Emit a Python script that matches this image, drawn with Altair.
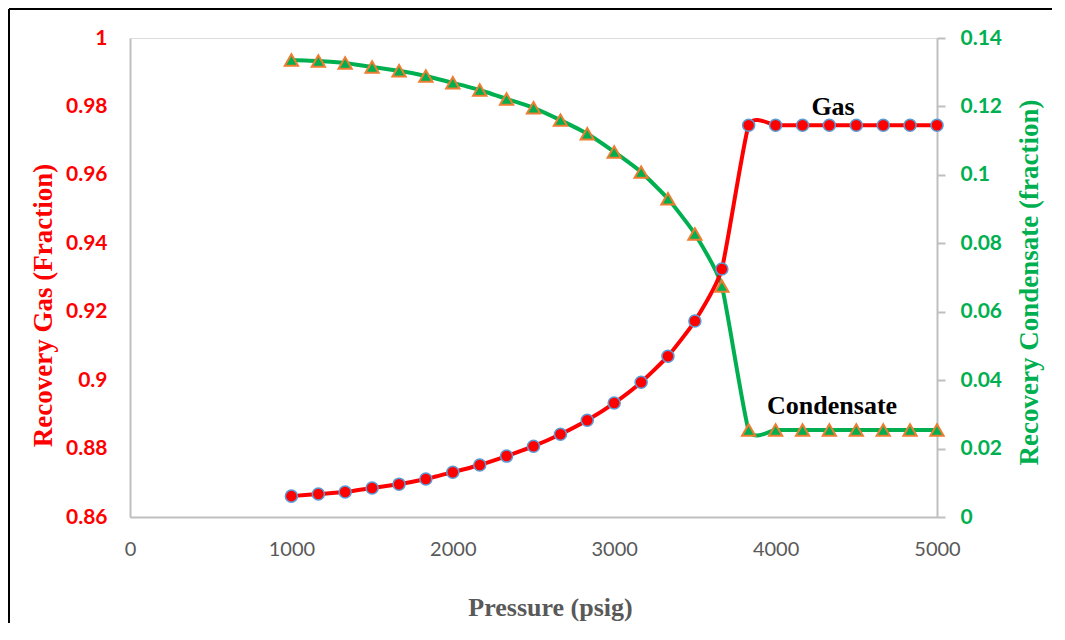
import altair as alt
import pandas as pd

pressure = [1000, 1167, 1333, 1500, 1667, 1833, 2000, 2167, 2333, 2500, 2667, 2833,
            3000, 3167, 3333, 3500, 3667, 3833, 4000, 4167, 4333, 4500, 4667, 4833, 5000]
gas = [0.8661, 0.8667, 0.8673, 0.8685, 0.8696, 0.8711, 0.8731, 0.8752, 0.8778, 0.8807,
       0.8842, 0.8883, 0.8933, 0.8994, 0.9070, 0.9173, 0.9325, 0.9745, 0.9745, 0.9745,
       0.9745, 0.9745, 0.9745, 0.9745, 0.9745]
condensate = [0.1336, 0.1333, 0.1327, 0.1315, 0.1304, 0.1289, 0.1269, 0.1248, 0.1222, 0.1196,
              0.1160, 0.1120, 0.1067, 0.1008, 0.0930, 0.0827, 0.0675, 0.0254, 0.0254, 0.0254,
              0.0254, 0.0254, 0.0254, 0.0254, 0.0254]

ann_text = ["Gas", "Condensate"]
ann_x = [4356, 4350]
ann_y = [0.9775, 0.8901]

x_ticks = [0, 1000, 2000, 3000, 4000, 5000]
left_ticks = [0.86, 0.88, 0.90, 0.92, 0.94, 0.96, 0.98, 1.0]
right_ticks = [0, 0.02, 0.04, 0.06, 0.08, 0.10, 0.12, 0.14]

df = pd.DataFrame({"p": pressure, "gas": gas, "cond": condensate})
ann = pd.DataFrame({"t": ann_text, "x": ann_x, "y": ann_y})

GRAY = "#BFBFBF"
RED = "#FF0000"
GREEN = "#00B050"
SERIF = "Liberation Serif"
TENSION = 0.5

xscale = alt.Scale(domain=[0, 5000], nice=False)
lscale = alt.Scale(domain=[0.86, 1.0], nice=False, zero=False)
rscale = alt.Scale(domain=[0, 0.14], nice=False)

x_axis = alt.Axis(values=x_ticks, format="d", title="Pressure (psig)", ticks=False, grid=False,
                  labelFont="Lato", labelFontSize=20, labelColor="#595959",
                  labelPadding=22, labelFlush=False, domainColor=GRAY, domainWidth=2,
                  titleFont=SERIF, titleFontSize=26, titleFontWeight="bold",
                  titleColor="#595959", titleX=420, titleY=98,
                  titleBaseline="alphabetic", titleAlign="center")

left_axis = alt.Axis(orient="left", values=left_ticks, format="~g", ticks=False, grid=False,
                     labelFont="Lato", labelFontSize=21, labelFontWeight="bold",
                     labelColor=RED, labelPadding=23, labelFlush=False,
                     domainColor=GRAY, domainWidth=2,
                     title="Recovery Gas (Fraction)", titleFont=SERIF, titleFontSize=27,
                     titleFontWeight="bold", titleColor=RED, titleAngle=270,
                     titleBaseline="bottom", titleAlign="center", titleX=-73, titleY=267)

right_axis = alt.Axis(orient="right", values=right_ticks, format="~g", ticks=True,
                      tickSize=8, tickColor=GRAY, tickWidth=2, grid=False,
                      labelFont="Lato", labelFontSize=21, labelFontWeight="bold",
                      labelColor=GREEN, labelPadding=15, labelFlush=False,
                      domainColor=GRAY, domainWidth=2,
                      title="Recovery Condensate (fraction)", titleFont=SERIF,
                      titleFontSize=27, titleFontWeight="bold", titleColor=GREEN,
                      titleAngle=270, titleBaseline="bottom", titleAlign="center",
                      titleX=106, titleY=244)

X = alt.X("p:Q", scale=xscale, axis=x_axis)
base = alt.Chart(df)

red_line = base.mark_line(interpolate="cardinal", tension=TENSION, color=RED, strokeWidth=4).encode(
    x=X,
    y=alt.Y("gas:Q", scale=lscale, axis=left_axis),
)
green_line = base.mark_line(interpolate="cardinal", tension=TENSION, color=GREEN, strokeWidth=4).encode(
    x=X,
    y=alt.Y("cond:Q", scale=rscale, axis=right_axis),
)
triangles = base.mark_point(shape="triangle-up", filled=True, fill=GREEN, stroke="#ED7D31",
                            strokeWidth=2, size=175, opacity=1).encode(
    x=X,
    y=alt.Y("cond:Q", scale=rscale, axis=None),
)
circles = base.mark_point(shape="circle", filled=True, fill=RED, stroke="#5B9BD5",
                          strokeWidth=1.5, size=145, opacity=1).encode(
    x=X,
    y=alt.Y("gas:Q", scale=lscale, axis=None),
)
labels = alt.Chart(ann).mark_text(font=SERIF, fontSize=26, fontWeight="bold",
                                  color="black", align="center",
                                  baseline="alphabetic").encode(
    x=alt.X("x:Q", scale=xscale, axis=x_axis),
    y=alt.Y("y:Q", scale=lscale, axis=None),
    text="t:N",
)

frame_left = alt.Chart(ann).mark_rule(color="black", strokeWidth=2).encode(
    x=alt.value(-121), y=alt.value(-29), y2=alt.value(585))
frame_top = alt.Chart(ann).mark_rule(color="black", strokeWidth=2).encode(
    x=alt.value(-121), x2=alt.value(922), y=alt.value(-29))

chart = alt.layer(green_line, red_line, triangles, circles, labels, frame_left, frame_top).resolve_scale(
    y="independent"
).properties(
    width=807, height=479, padding=0
).configure_view(
    stroke=GRAY, strokeWidth=2
).configure(background="white")

chart.save("out.html", embed_options={"renderer": "svg", "actions": False})
